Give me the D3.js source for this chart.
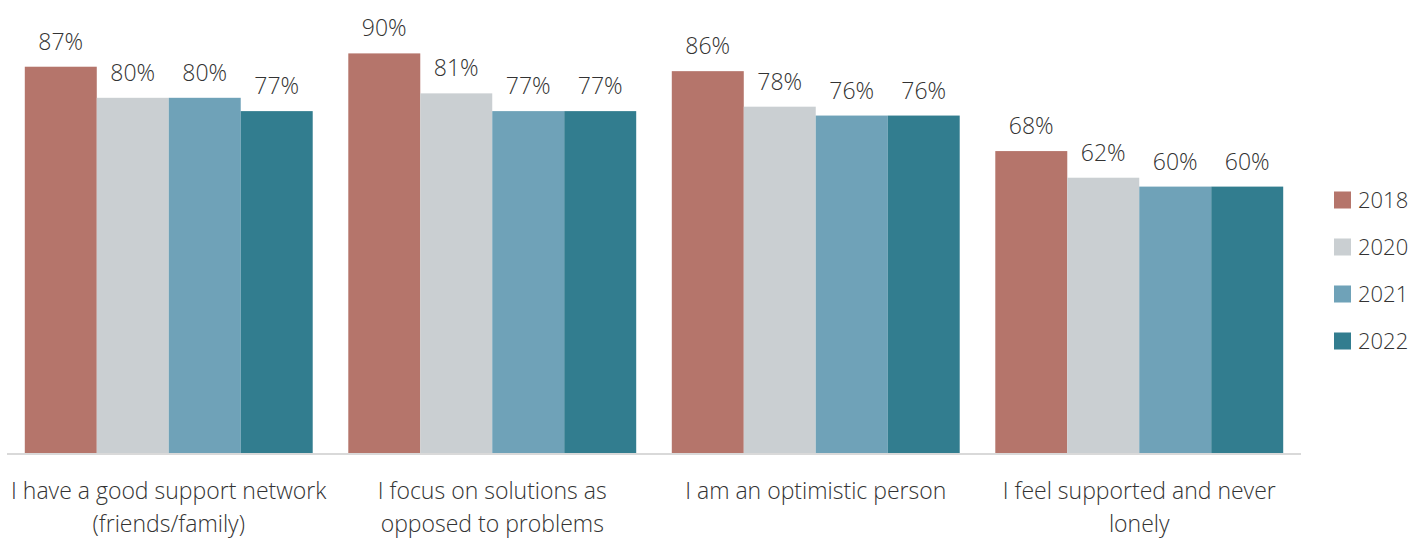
<!DOCTYPE html>
<html>
<head>
<meta charset="utf-8">
<script src="https://cdn.jsdelivr.net/npm/d3@7"></script>
<style>
  body { margin: 0; background: #fff; }
  text { font-family: "Open Sans", "Lato", sans-serif; font-weight: 300; fill: #333; }
</style>
</head>
<body>
<div id="viz"></div>
<script>
const categories = [
  ["I have a good support network", "(friends/family)"],
  ["I focus on solutions as", "opposed to problems"],
  ["I am an optimistic person"],
  ["I feel supported and never", "lonely"]
];
const years = ["2018", "2020", "2021", "2022"];
const colors = ["#b5756b", "#cacfd2", "#6fa2b8", "#327d8f"];
const v2018 = [87, 90, 86, 68];
const v2020 = [80, 81, 78, 62];
const v2021 = [80, 77, 76, 60];
const v2022 = [77, 77, 76, 60];
const series = [v2018, v2020, v2021, v2022];

const width = 1424, height = 540;
const baseline = 453;

const svg = d3.select("#viz").append("svg")
  .attr("width", width)
  .attr("height", height);

const x0 = d3.scaleBand()
  .domain(d3.range(categories.length))
  .range([7, 1301])
  .paddingInner(0.11)
  .paddingOuter(0.055);

const x1 = d3.scaleBand()
  .domain(years)
  .range([0, x0.bandwidth()]);

const y = d3.scaleLinear()
  .domain([0, 100])
  .range([baseline, baseline - 444]);

const color = d3.scaleOrdinal().domain(years).range(colors);

const groups = svg.selectAll("g.group")
  .data(categories)
  .enter()
  .append("g")
  .attr("class", "group")
  .attr("transform", (d, i) => `translate(${x0(i)},0)`);

groups.each(function(d, i) {
  const g = d3.select(this);
  const vals = years.map((yr, k) => ({ year: yr, value: series[k][i] }));
  g.selectAll("rect")
    .data(vals)
    .enter()
    .append("rect")
    .attr("x", v => x1(v.year))
    .attr("width", x1.bandwidth())
    .attr("y", v => y(v.value))
    .attr("height", v => y(0) - y(v.value))
    .attr("fill", v => color(v.year));
  g.selectAll("text.val")
    .data(vals)
    .enter()
    .append("text")
    .attr("class", "val")
    .attr("x", v => x1(v.year) + x1.bandwidth() / 2)
    .attr("y", v => y(v.value) - 17)
    .attr("text-anchor", "middle")
    .style("font-size", "23px")
    .text(v => v.value + "%");
});

// axis line
svg.append("line")
  .attr("x1", 7).attr("x2", 1301)
  .attr("y1", baseline + 1).attr("y2", baseline + 1)
  .attr("stroke", "#d9d9d9")
  .attr("stroke-width", 2);

// category labels
const catLabels = svg.selectAll("text.cat")
  .data(categories)
  .enter()
  .append("text")
  .attr("class", "cat")
  .attr("text-anchor", "middle")
  .style("font-size", "23px")
  .attr("x", (d, i) => x0(i) + x0.bandwidth() / 2)
  .attr("y", 499);

catLabels.each(function(d) {
  const t = d3.select(this);
  const cx = t.attr("x");
  d.forEach((line, k) => {
    t.append("tspan")
      .attr("x", cx)
      .attr("dy", k === 0 ? 0 : 33)
      .text(line);
  });
});

// legend
const legend = svg.selectAll("g.legend")
  .data(years)
  .enter()
  .append("g")
  .attr("class", "legend")
  .attr("transform", (d, i) => `translate(1334,${200 + i * 47})`);

legend.append("rect")
  .attr("x", 0).attr("y", -8.5)
  .attr("width", 17).attr("height", 17)
  .attr("fill", d => color(d));

legend.append("text")
  .attr("x", 24)
  .attr("y", 0)
  .attr("dy", "0.35em")
  .style("font-size", "22px")
  .text(d => d);
</script>
</body>
</html>
